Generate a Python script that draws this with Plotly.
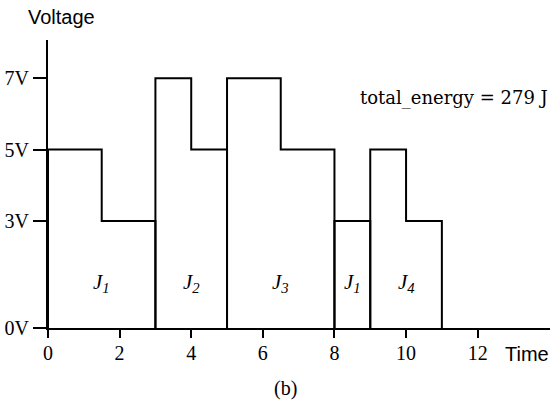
import plotly.graph_objects as go

# Piecewise-constant voltage schedule: each segment has a start, end and level
seg_start = [0, 1.5, 3, 4, 5, 6.5, 8, 9, 10]
seg_end = [1.5, 3, 4, 5, 6.5, 8, 9, 10, 11]
seg_volt = [5, 3, 7, 5, 7, 5, 3, 5, 3]

# Jobs and the time windows they occupy
job_names = ["J1", "J2", "J3", "J1", "J4"]
job_start = [0, 3, 5, 8, 9]
job_end = [3, 5, 8, 9, 11]

y_tickvals = [0, 3, 5, 7]
y_ticktext = ["0V", "3V", "5V", "7V"]
x_tickvals = [0, 2, 4, 6, 8, 10, 12]

# energy = sum of V^2 * dt over all segments
total_energy = sum(v * v * (e - s) for s, e, v in zip(seg_start, seg_end, seg_volt))

fig = go.Figure()

for name, js, je in zip(job_names, job_start, job_end):
    xs, ys = [js], [0]
    last_v = 0
    for s, e, v in zip(seg_start, seg_end, seg_volt):
        if s >= js and e <= je:
            xs.append(s)
            ys.append(v)
            last_v = v
    xs += [je, je]
    ys += [last_v, 0]
    fig.add_trace(go.Scatter(
        x=xs, y=ys, mode="lines",
        line=dict(color="black", width=2, shape="hv"),
        cliponaxis=False, showlegend=False, hoverinfo="skip",
    ))
    fig.add_annotation(
        x=(js + je) / 2, y=1.26, xref="x", yref="y",
        text="<i>J<sub>%s</sub></i>" % name[1:], showarrow=False,
        font=dict(family="Liberation Serif", size=21, color="black"),
    )

tick_serif = dict(family="Liberation Serif", size=20, color="black")
sans = dict(family="Liberation Sans", size=20, color="black")

fig.add_annotation(x=-0.044, y=1.08, xref="paper", yref="paper", text="Voltage",
                   showarrow=False, xanchor="left", yanchor="middle", font=sans)
fig.add_annotation(x=0.906, y=-0.09, xref="paper", yref="paper", text="Time",
                   showarrow=False, xanchor="left", yanchor="middle", font=sans)
fig.add_annotation(x=0.474, y=-0.211, xref="paper", yref="paper", text="(b)",
                   showarrow=False, xanchor="center", yanchor="middle", font=tick_serif)
fig.add_annotation(x=8.66, y=6.44, xref="x", yref="y",
                   text="total_energy = %d J" % round(total_energy),
                   showarrow=False, xanchor="left", yanchor="middle",
                   font=dict(family="DejaVu Serif", size=18, color="black"))

fig.update_layout(
    width=553, height=401,
    margin=dict(l=48, r=3, t=40, b=73),
    paper_bgcolor="white", plot_bgcolor="white",
    xaxis=dict(range=[0, 14.02], tickvals=x_tickvals, showgrid=False, zeroline=False,
               showline=True, linecolor="black", linewidth=2,
               ticks="outside", ticklen=8, tickwidth=1.5, tickcolor="black",
               tickfont=tick_serif, ticklabelstandoff=-2),
    yaxis=dict(range=[0, 8.07], tickvals=y_tickvals, ticktext=y_ticktext,
               showgrid=False, zeroline=False,
               showline=True, linecolor="black", linewidth=2,
               ticks="outside", ticklen=13, tickwidth=1.5, tickcolor="black",
               tickfont=tick_serif, ticklabelstandoff=0),
)

fig.write_html("out.html")
